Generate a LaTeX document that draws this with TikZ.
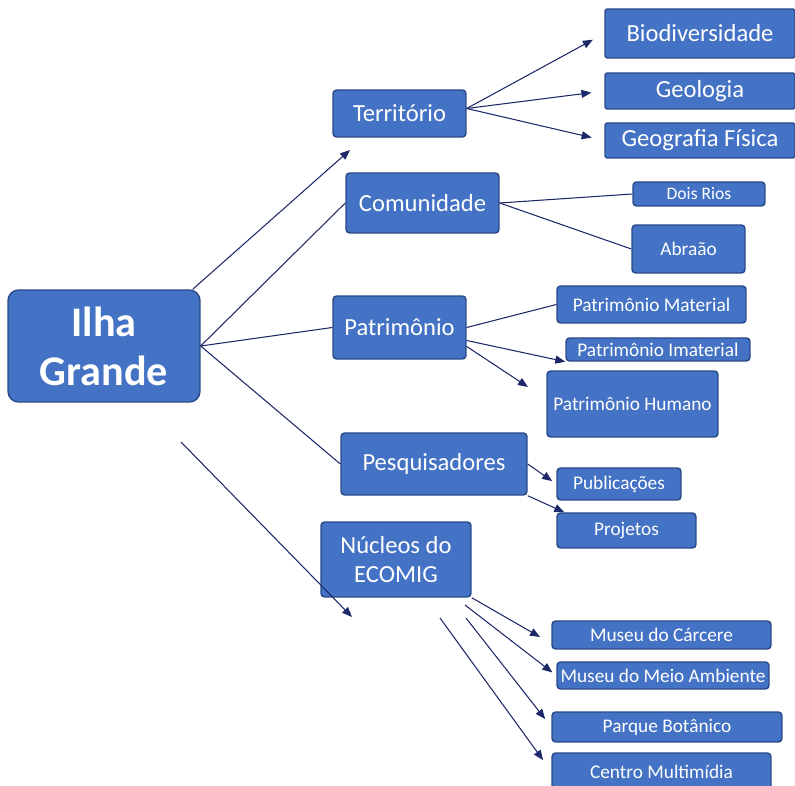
\documentclass[tikz,border=0pt]{standalone}
\usepackage{fontspec}
\setmainfont{Carlito}
\usetikzlibrary{arrows.meta}
\definecolor{IGBlue}{RGB}{68,114,196}
\definecolor{IGEdge}{RGB}{42,74,135}
\definecolor{IGLine}{RGB}{28,40,105}

\begin{document}
\begin{tikzpicture}[x=0.02cm,y=-0.02cm,>={Triangle[length=2mm,width=1.6mm]},
    box/.style={draw=IGEdge,fill=IGBlue,text=white,line width=0.8pt,rounded corners=2pt,inner sep=0pt,align=center},
    topbox/.style={box,font=\fontsize{14}{16.5}\selectfont},
    leafbox/.style={box,font=\fontsize{11}{13}\selectfont},
    link/.style={IGLine,line width=0.6pt}]
      \useasboundingbox (0,0) rectangle (795,786);
      \node[box,rounded corners=6pt,minimum width=3.84cm,minimum height=2.24cm,font=\bfseries\fontsize{24}{28}\selectfont] (ilha) at (104,346) {Ilha\\Grande};
      \node[topbox,minimum width=2.66cm,minimum height=.94cm] (terr) at (399.5,113.5) {Território};
      \node[topbox,minimum width=3.06cm,minimum height=1.2cm] (comu) at (422.5,203) {Comunidade};
      \node[topbox,minimum width=2.66cm,minimum height=1.26cm] (patr) at (399.5,327.5) {Patrimônio};
      \node[topbox,minimum width=3.72cm,minimum height=1.24cm] (pesq) at (434,464) {Pesquisadores};
      \node[topbox,minimum width=3cm,minimum height=1.5cm] (nucl) at (396,559.5) {Núcleos do\\ECOMIG};
      \node[topbox,rounded corners=1pt,minimum width=3.8cm,minimum height=.98cm] (bio) at (700,33.5) {Biodiversidade};
      \node[topbox,rounded corners=1pt,minimum width=3.8cm,minimum height=.72cm] (geo) at (700,91) {Geologia};
      \node[topbox,rounded corners=1pt,minimum width=3.8cm,minimum height=.7cm] (geof) at (700,140.5) {Geografia Física};
      \node[leafbox,font=\fontsize{10}{12}\selectfont,minimum width=2.64cm,minimum height=.48cm] (dois) at (699,194) {Dois Rios};
      \node[leafbox,minimum width=2.26cm,minimum height=.96cm] (abra) at (688.5,249) {Abraão};
      \node[leafbox,minimum width=3.78cm,minimum height=.74cm] (pmat) at (651.5,304.5) {Patrimônio Material};
      \node[leafbox,minimum width=3.68cm,minimum height=.46cm] (pima) at (658,349.5) {Patrimônio Imaterial};
      \node[leafbox,minimum width=3.42cm,minimum height=1.32cm] (phum) at (632.5,404) {Patrimônio Humano};
      \node[leafbox,minimum width=2.48cm,minimum height=.64cm] (publ) at (619,484) {Publicações};
      \node[leafbox,minimum width=2.78cm,minimum height=.7cm] (proj) at (626.5,530.5) {Projetos};
      \node[leafbox,minimum width=4.38cm,minimum height=.56cm] (mcar) at (661.5,635) {Museu do Cárcere};
      \node[leafbox,minimum width=4.24cm,minimum height=.54cm] (mmei) at (663,675.5) {Museu do Meio Ambiente};
      \node[leafbox,minimum width=4.6cm,minimum height=.6cm] (parq) at (667,727) {Parque Botânico};
      \node[leafbox,minimum width=4.38cm,minimum height=.74cm] (cent) at (661.5,771.5) {Centro Multimídia};
      \coordinate (terrTip) at (350,150);
      \coordinate (ilhaFree) at (181,442);
      \coordinate (nuclTip) at (352,617);
      \coordinate (phumTip) at (528,387);
      \coordinate (mcarTip) at (540,637);
      \coordinate (mmeiFrom) at (465,605);
      \coordinate (parqFrom) at (466,618);
      \coordinate (centFrom) at (440,618);
      \draw[link,->] ([xshift=-.16cm]ilha.north east) -- (terrTip);
      \draw[link] (ilha.east) -- (comu.west);
      \draw[link] (ilha.east) -- (patr.west);
      \draw[link] (ilha.east) -- (pesq.west);
      \draw[link,->] (ilhaFree) -- (nuclTip);
      \draw[link,->,shorten >=.26cm] ([yshift=.1cm]terr.east) -- (bio.west);
      \draw[link,->,shorten >=.26cm] ([yshift=.1cm]terr.east) -- (geo.west);
      \draw[link,->,shorten >=.26cm] ([yshift=.1cm]terr.east) -- (geof.west);
      \draw[link] (comu.east) -- (dois.west);
      \draw[link] (comu.east) -- (abra.west);
      \draw[link] (patr.east) -- (pmat.west);
      \draw[link,->] ([yshift=-.26cm]patr.east) -- (pima.south west);
      \draw[link,->] ([yshift=-.38cm]patr.east) -- (phumTip);
      \draw[link,->,shorten >=.1cm] (pesq.east) -- (publ.west);
      \draw[link,->] (pesq.south east) -- ([xshift=.16cm]proj.north west);
      \draw[link,->] (nucl.south east) -- (mcarTip);
      \draw[link,->,shorten >=.1cm] (mmeiFrom) -- (mmei.west);
      \draw[link,->,shorten >=.2cm] (parqFrom) -- (parq.west);
      \draw[link,->,shorten >=.28cm] (centFrom) -- (cent.west);
    \end{tikzpicture}
\end{document}
